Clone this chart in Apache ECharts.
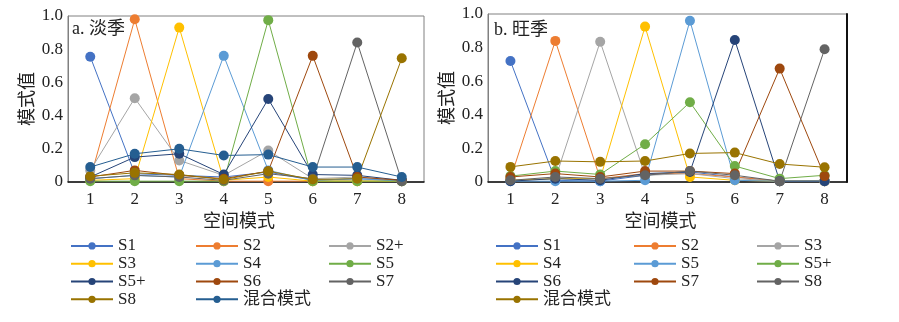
<!DOCTYPE html>
<html><head><meta charset="utf-8">
<script src="https://cdn.jsdelivr.net/npm/echarts@6/dist/echarts.min.js"></script>
<style>html,body{margin:0;padding:0;background:#fff}#c{width:899px;height:322px}</style>
</head><body><div id="c"></div>
<script>
const categories = ['1','2','3','4','5','6','7','8'];
const yTicks = [0, 0.2, 0.4, 0.6, 0.8, 1.0];

// a. 淡季
const namesA = ['S1','S2','S2+','S3','S4','S5','S5+','S6','S7','S8','混合模式'];
const colorsA = ['#4472C4','#ED7D31','#A5A5A5','#FFC000','#5B9BD5','#70AD47','#264478','#9E480E','#636363','#997300','#255E91'];
const a_S1  = [0.755, 0.05, 0.04, 0.03, 0.06, 0.01, 0.02, 0.01];
const a_S2  = [0.02, 0.98, 0.02, 0.005, 0.005, 0.005, 0.005, 0.005];
const a_S2p = [0.07, 0.505, 0.13, 0.04, 0.19, 0.02, 0.03, 0.005];
const a_S3  = [0.01, 0.02, 0.93, 0.01, 0.03, 0.005, 0.005, 0.005];
const a_S4  = [0.02, 0.04, 0.03, 0.76, 0.07, 0.01, 0.02, 0.005];
const a_S5  = [0.005, 0.005, 0.005, 0.005, 0.975, 0.005, 0.005, 0.005];
const a_S5p = [0.03, 0.15, 0.17, 0.045, 0.50, 0.045, 0.04, 0.01];
const a_S6  = [0.03, 0.07, 0.04, 0.02, 0.065, 0.76, 0.03, 0.01];
const a_S7  = [0.02, 0.04, 0.03, 0.01, 0.05, 0.02, 0.84, 0.005];
const a_S8  = [0.035, 0.055, 0.045, 0.015, 0.065, 0.015, 0.02, 0.745];
const a_Mix = [0.09, 0.17, 0.20, 0.16, 0.165, 0.09, 0.09, 0.03];
const valuesA = [a_S1,a_S2,a_S2p,a_S3,a_S4,a_S5,a_S5p,a_S6,a_S7,a_S8,a_Mix];

// b. 旺季
const namesB = ['S1','S2','S3','S4','S5','S5+','S6','S7','S8','混合模式'];
const colorsB = ['#4472C4','#ED7D31','#A5A5A5','#FFC000','#5B9BD5','#70AD47','#264478','#9E480E','#636363','#997300'];
const b_S1  = [0.72, 0.01, 0.005, 0.04, 0.06, 0.03, 0.005, 0.005];
const b_S2  = [0.02, 0.84, 0.02, 0.05, 0.05, 0.03, 0.005, 0.005];
const b_S3  = [0.01, 0.02, 0.835, 0.04, 0.05, 0.02, 0.005, 0.01];
const b_S4  = [0.01, 0.02, 0.02, 0.925, 0.03, 0.01, 0.005, 0.005];
const b_S5  = [0.005, 0.005, 0.005, 0.01, 0.96, 0.01, 0.005, 0.005];
const b_S5p = [0.035, 0.065, 0.045, 0.225, 0.475, 0.095, 0.02, 0.04];
const b_S6  = [0.005, 0.02, 0.01, 0.05, 0.06, 0.845, 0.005, 0.005];
const b_S7  = [0.03, 0.05, 0.03, 0.065, 0.065, 0.05, 0.675, 0.035];
const b_S8  = [0.01, 0.03, 0.02, 0.04, 0.065, 0.04, 0.005, 0.79];
const b_Mix = [0.09, 0.125, 0.12, 0.125, 0.17, 0.175, 0.107, 0.088];
const valuesB = [b_S1,b_S2,b_S3,b_S4,b_S5,b_S5p,b_S6,b_S7,b_S8,b_Mix];

const serif = '"Liberation Serif","Times New Roman","Noto Sans CJK SC",serif';
const cjk = '"Liberation Serif","Noto Sans CJK SC",serif';

function makeSeries(names, colors, values, gi) {
  return names.map((n, i) => ({
    name: n, type: 'line', xAxisIndex: gi, yAxisIndex: gi,
    data: values[i], symbol: 'circle', symbolSize: 10,
    color: colors[i], lineStyle: { width: 1, color: colors[i] },
    itemStyle: { color: colors[i] }, emphasis: { disabled: true }, animation: false
  }));
}

function legendCol(names, colors, items, left) {
  return {
    orient: 'vertical', left: left, top: 237, itemWidth: 42, itemHeight: 9, itemGap: 0,
    selectedMode: false, padding: 0,
    textStyle: { fontFamily: cjk, fontSize: 17, color: '#222', lineHeight: 17.8, padding: [0,0,0,0] },
    data: items.map(n => {
      const c = colors[names.indexOf(n)];
      return { name: n, itemStyle: { color: c }, lineStyle: { color: c, width: 2 } };
    })
  };
}

const yAxisBase = {
  type: 'value', min: 0, max: 1, interval: 0.2,
  axisLine: { show: true, lineStyle: { color: '#808080', width: 1 } },
  axisTick: { show: false }, splitLine: { show: false },
  axisLabel: { fontFamily: serif, fontSize: 17, color: '#222', margin: 5,
    formatter: v => v === 0 ? '0' : v.toFixed(1) },
  name: '模式值', nameLocation: 'middle', nameGap: 31,
  nameTextStyle: { fontFamily: cjk, fontSize: 18, color: '#222' }
};
const xAxisBase = {
  type: 'category', data: categories, boundaryGap: true,
  axisLine: { show: true, lineStyle: { color: '#111', width: 1.5 } },
  axisTick: { show: false },
  axisLabel: { fontFamily: serif, fontSize: 17, color: '#222', margin: 9 },
  name: '空间模式', nameLocation: 'middle', nameGap: 31,
  nameTextStyle: { fontFamily: cjk, fontSize: 18, color: '#222', padding: [0, 14, 0, 0] }
};

const chart = echarts.init(document.getElementById('c'), null, { renderer: 'canvas' });
chart.setOption({
  animation: false,
  backgroundColor: '#fff',
  title: [
    { text: 'a. 淡季', left: 72, top: 20, textStyle: { fontFamily: cjk, fontSize: 18, fontWeight: 'normal', color: '#222' }, padding: 0 },
    { text: 'b. 旺季', left: 494, top: 21, textStyle: { fontFamily: cjk, fontSize: 18, fontWeight: 'normal', color: '#222' }, padding: 0 }
  ],
  grid: [
    { left: 68, right: 475, top: 16, bottom: 140, show: true, borderColor: '#808080', borderWidth: 1, containLabel: false },
    { left: 488, right: 52, top: 14, bottom: 140, show: true, borderColor: '#808080', borderWidth: 1, containLabel: false }
  ],
  xAxis: [ Object.assign({}, xAxisBase, { gridIndex: 0 }), Object.assign({}, xAxisBase, { gridIndex: 1 }) ],
  yAxis: [
    Object.assign({}, yAxisBase, { gridIndex: 0 }),
    Object.assign({}, yAxisBase, { gridIndex: 1 }),
    { type: 'value', gridIndex: 1, position: 'right', min: 0, max: 1, axisLine: { show: true, lineStyle: { color: '#111', width: 2 } },
      axisTick: { show: false }, axisLabel: { show: false }, splitLine: { show: false } }
  ],
  legend: [
    legendCol(namesA, colorsA, ['S1','S3','S5+','S8'], 70),
    legendCol(namesA, colorsA, ['S2','S4','S6','混合模式'], 195),
    legendCol(namesA, colorsA, ['S2+','S5','S7'], 328),
    legendCol(namesB, colorsB, ['S1','S4','S6','混合模式'], 495),
    legendCol(namesB, colorsB, ['S2','S5','S7'], 633),
    legendCol(namesB, colorsB, ['S3','S5+','S8'], 756)
  ],
  series: makeSeries(namesA, colorsA, valuesA, 0).concat(makeSeries(namesB, colorsB, valuesB, 1))
});
</script></body></html>
